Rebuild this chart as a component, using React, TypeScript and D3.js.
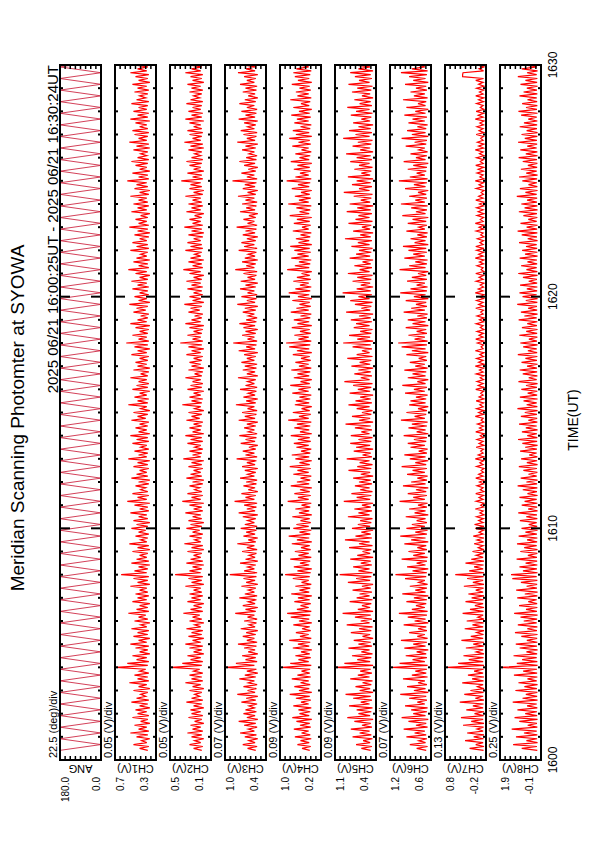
import React from 'react';
import * as d3 from 'd3';

// sampling of the photometer record (seconds after 16:00:00)
const START_SEC = 25;
const STEP_SEC = 5;
const ANG_STEP_SEC = 15;

const timeTicks = [0, 600, 1200, 1800];
const timeTickLabels = ['1600', '1610', '1620', '1630'];

const panelNames = ['ANG', 'CH1(V)', 'CH2(V)', 'CH3(V)', 'CH4(V)', 'CH5(V)', 'CH6(V)', 'CH7(V)', 'CH8(V)'];
const panelMax = [180.0, 0.7, 0.5, 1.0, 1.0, 1.1, 1.2, 0.8, 1.9];
const panelMin = [0.0, 0.3, 0.1, 0.4, 0.2, 0.4, 0.6, -0.2, -0.1];
const maxLabels = ['180.0', '0.7', '0.5', '1.0', '1.0', '1.1', '1.2', '0.8', '1.9'];
const minLabels = ['0.0', '0.3', '0.1', '0.4', '0.2', '0.4', '0.6', '-0.2', '-0.1'];
const divLabels = ['22.5 (deg)/div', '0.05 (V)/div', '0.05 (V)/div', '0.07 (V)/div', '0.09 (V)/div',
  '0.09 (V)/div', '0.07 (V)/div', '0.13 (V)/div', '0.25 (V)/div'];

// scan angle turning points (deg), one every 15 s
const angDeg = [
  180, 0, 180, 0, 180, 0, 180, 0, 180, 0, 180, 0, 180, 0, 180, 0, 180, 0, 180, 0,
  180, 0, 180, 0, 180, 0, 180, 0, 180, 0, 180, 0, 180, 0, 180, 0, 180, 0, 180, 0,
  180, 0, 180, 0, 180, 0, 180, 0, 180, 0, 180, 0, 180, 0, 180, 0, 180, 0, 180, 0,
  180, 0, 180, 0, 180, 0, 180, 0, 180, 0, 180, 0, 180, 0, 180, 0, 180, 0, 180, 0,
  180, 0, 180, 0, 180, 0, 180, 0, 180, 0, 180, 0, 180, 0, 180, 0, 180, 0, 180, 0,
  180, 0, 180, 0, 180, 0, 180, 0, 180, 0, 180, 0, 180, 0, 180, 0, 180, 0, 180, 0,
];

// channel outputs (V), one every 5 s
const ch1 = [
  .38, .46, .37, .52, .39, .44, .36, .49, .38, .55, .37, .47, .39, .51, .36, .45, .38, .53, .37, .48,
  .39, .50, .36, .46, .38, .54, .37, .49, .40, .45, .38, .52, .36, .47, .39, .56, .37, .48, .38, .51,
  .37, .46, .40, .69, .38, .58, .37, .49, .39, .53, .36, .46, .38, .50, .37, .55, .39, .47, .36, .52,
  .38, .48, .37, .54, .39, .45, .36, .51, .38, .47, .40, .57, .37, .49, .38, .46, .36, .53, .39, .48,
  .37, .50, .38, .46, .39, .55, .36, .48, .38, .52, .37, .64, .39, .51, .38, .47, .36, .54, .37, .49,
  .39, .46, .38, .53, .36, .48, .37, .56, .39, .45, .38, .50, .37, .47, .40, .54, .38, .49, .36, .52,
  .38, .47, .39, .55, .37, .46, .38, .51, .36, .58, .39, .48, .37, .53, .38, .45, .40, .50, .37, .47,
  .36, .54, .38, .49, .39, .46, .37, .52, .38, .48, .36, .57, .39, .47, .38, .51, .37, .45, .39, .53,
  .37, .49, .38, .55, .36, .47, .39, .50, .38, .46, .37, .54, .40, .48, .38, .52, .36, .45, .39, .57,
  .38, .48, .37, .51, .39, .46, .36, .53, .38, .49, .37, .47, .39, .55, .38, .45, .37, .52, .36, .48,
  .39, .50, .38, .46, .37, .54, .39, .48, .36, .51, .38, .59, .37, .47, .39, .53, .38, .46, .37, .50,
  .36, .55, .39, .48, .38, .45, .37, .52, .40, .49, .38, .56, .36, .47, .39, .51, .37, .46, .38, .53,
  .37, .48, .39, .54, .38, .46, .36, .50, .39, .57, .37, .47, .38, .52, .36, .49, .39, .45, .38, .55,
  .37, .49, .38, .53, .39, .46, .37, .51, .36, .48, .38, .56, .37, .47, .39, .50, .38, .45, .36, .54,
  .39, .48, .37, .52, .38, .47, .39, .55, .37, .46, .36, .51, .38, .49, .39, .58, .37, .47, .38, .53,
  .36, .46, .39, .50, .38, .54, .37, .48, .39, .45, .38, .52, .36, .49, .37, .56, .39, .47, .38, .51,
  .37, .53, .38, .46, .39, .50, .36, .55, .38, .48, .37, .52, .39, .47, .38, .54, .37, .49, .40, .46,
  .38, .51, .37, .48, .39, .53, .36, .47, .38, .50, .37, .55, .39, .48, .38, .52,
];

const ch2 = [
  .19, .27, .18, .31, .20, .26, .17, .29, .19, .33, .18, .28, .20, .30, .17, .26, .19, .32, .18, .29,
  .20, .30, .17, .27, .19, .34, .18, .29, .21, .26, .19, .31, .17, .28, .20, .35, .18, .29, .19, .31,
  .18, .27, .21, .49, .19, .38, .18, .30, .20, .33, .17, .27, .19, .31, .18, .35, .20, .28, .17, .32,
  .19, .29, .18, .34, .20, .26, .17, .31, .19, .28, .21, .37, .18, .30, .19, .27, .17, .33, .20, .29,
  .18, .31, .19, .27, .20, .35, .17, .29, .19, .32, .18, .45, .20, .31, .19, .28, .17, .34, .18, .30,
  .20, .27, .19, .33, .17, .29, .18, .36, .20, .26, .19, .31, .18, .28, .21, .34, .19, .30, .17, .32,
  .19, .28, .20, .35, .18, .27, .19, .31, .17, .38, .20, .29, .18, .33, .19, .26, .21, .31, .18, .28,
  .17, .34, .19, .30, .20, .27, .18, .32, .19, .29, .17, .37, .20, .28, .19, .31, .18, .26, .20, .33,
  .18, .30, .19, .35, .17, .28, .20, .31, .19, .27, .18, .34, .21, .29, .19, .32, .17, .26, .20, .38,
  .19, .29, .18, .31, .20, .27, .17, .33, .19, .30, .18, .28, .20, .35, .19, .26, .18, .32, .17, .29,
  .20, .31, .19, .27, .18, .34, .20, .29, .17, .32, .19, .40, .18, .28, .20, .33, .19, .27, .18, .31,
  .17, .35, .20, .29, .19, .26, .18, .32, .21, .30, .19, .36, .17, .28, .20, .31, .18, .27, .19, .33,
  .18, .29, .20, .34, .19, .27, .17, .31, .20, .37, .18, .28, .19, .32, .17, .30, .20, .26, .19, .35,
  .18, .30, .19, .33, .20, .27, .18, .32, .17, .29, .19, .36, .18, .28, .20, .31, .19, .26, .17, .34,
  .20, .29, .18, .32, .19, .28, .20, .35, .18, .27, .17, .31, .19, .30, .20, .39, .18, .28, .19, .33,
  .17, .27, .20, .31, .19, .34, .18, .29, .20, .26, .19, .32, .17, .30, .18, .36, .20, .28, .19, .31,
  .18, .33, .19, .27, .20, .31, .17, .35, .19, .29, .18, .32, .20, .28, .19, .34, .18, .30, .21, .27,
  .19, .31, .18, .29, .20, .33, .17, .28, .19, .30, .18, .35, .20, .29, .19, .32,
];

const ch3 = [
  .55, .67, .53, .74, .56, .65, .52, .71, .54, .78, .57, .66, .53, .72, .55, .80, .52, .68, .56, .73,
  .54, .70, .57, .65, .53, .76, .55, .69, .52, .82, .56, .67, .54, .73, .53, .66, .57, .79, .55, .71,
  .52, .68, .54, .99, .57, .84, .53, .70, .55, .75, .52, .66, .56, .72, .54, .81, .53, .68, .57, .74,
  .55, .69, .52, .77, .56, .65, .54, .72, .53, .67, .57, .85, .55, .70, .52, .74, .56, .66, .54, .79,
  .53, .71, .57, .66, .55, .76, .52, .69, .56, .73, .54, .93, .53, .72, .57, .67, .55, .78, .52, .70,
  .56, .65, .54, .75, .53, .68, .57, .82, .55, .66, .52, .73, .56, .69, .54, .77, .53, .71, .57, .67,
  .55, .74, .52, .80, .56, .68, .54, .72, .53, .86, .57, .70, .55, .76, .52, .66, .56, .73, .54, .69,
  .53, .78, .57, .67, .55, .71, .52, .75, .56, .68, .54, .83, .53, .70, .57, .74, .55, .65, .52, .77,
  .56, .70, .54, .79, .53, .66, .57, .72, .55, .68, .52, .80, .56, .71, .54, .75, .53, .67, .57, .84,
  .55, .69, .52, .73, .56, .66, .54, .78, .53, .70, .57, .67, .55, .81, .52, .68, .56, .74, .54, .71,
  .53, .76, .57, .68, .55, .72, .52, .80, .56, .69, .54, .88, .53, .67, .57, .75, .55, .70, .52, .73,
  .56, .79, .54, .69, .53, .66, .57, .74, .55, .71, .52, .82, .56, .68, .54, .76, .53, .67, .57, .78,
  .55, .70, .52, .77, .56, .67, .54, .73, .53, .85, .57, .69, .55, .75, .52, .71, .56, .66, .54, .80,
  .53, .72, .57, .76, .55, .68, .52, .74, .56, .70, .54, .83, .53, .67, .57, .73, .55, .65, .52, .78,
  .56, .69, .54, .75, .53, .70, .57, .81, .55, .67, .52, .74, .56, .71, .54, .89, .53, .68, .57, .76,
  .55, .66, .52, .72, .56, .79, .54, .69, .53, .65, .57, .75, .55, .70, .52, .82, .56, .68, .54, .73,
  .53, .77, .57, .67, .55, .72, .52, .80, .56, .70, .54, .76, .53, .68, .57, .79, .55, .71, .52, .66,
  .56, .74, .54, .70, .53, .78, .57, .68, .55, .72, .52, .81, .56, .69, .54, .75,
];

const ch4 = [
  .42, .57, .40, .66, .43, .60, .39, .71, .41, .58, .44, .73, .40, .61, .42, .68, .38, .76, .43, .62,
  .41, .64, .39, .74, .44, .59, .40, .69, .42, .81, .38, .63, .43, .72, .41, .60, .44, .77, .40, .66,
  .42, .58, .41, .96, .39, .80, .44, .64, .40, .70, .42, .59, .38, .75, .43, .65, .41, .82, .39, .61,
  .44, .69, .40, .57, .42, .74, .38, .63, .43, .79, .41, .86, .39, .67, .44, .60, .40, .72, .42, .65,
  .38, .78, .43, .62, .41, .70, .39, .58, .44, .75, .42, .90, .40, .66, .38, .73, .43, .61, .41, .80,
  .39, .64, .44, .71, .40, .59, .42, .77, .38, .67, .43, .83, .41, .62, .39, .74, .44, .68, .40, .60,
  .42, .76, .38, .63, .43, .70, .41, .58, .39, .85, .44, .65, .40, .72, .42, .61, .38, .79, .43, .67,
  .41, .60, .39, .74, .44, .66, .40, .81, .42, .62, .38, .70, .43, .77, .41, .59, .39, .68, .44, .73,
  .40, .65, .42, .79, .38, .61, .43, .72, .41, .67, .39, .84, .44, .63, .40, .75, .42, .58, .38, .71,
  .43, .69, .41, .62, .39, .76, .44, .64, .40, .80, .42, .60, .38, .73, .43, .66, .41, .78, .39, .63,
  .44, .70, .40, .59, .42, .75, .38, .67, .43, .82, .41, .88, .39, .64, .44, .72, .40, .61, .42, .77,
  .38, .66, .43, .73, .41, .60, .39, .79, .44, .68, .40, .62, .42, .76, .38, .65, .43, .83, .41, .70,
  .39, .61, .44, .74, .40, .67, .42, .58, .38, .86, .43, .71, .41, .63, .39, .78, .44, .66, .40, .72,
  .42, .80, .38, .64, .43, .69, .41, .60, .39, .75, .44, .57, .40, .73, .42, .67, .38, .81, .43, .62,
  .41, .68, .39, .84, .44, .63, .40, .71, .42, .59, .38, .77, .43, .65, .41, .87, .39, .70, .44, .61,
  .40, .73, .42, .66, .38, .79, .43, .62, .41, .70, .39, .58, .44, .76, .40, .64, .42, .82, .38, .69,
  .43, .75, .41, .60, .39, .72, .44, .67, .40, .78, .42, .63, .38, .74, .43, .59, .41, .80, .39, .66,
  .44, .69, .40, .62, .42, .77, .38, .65, .43, .71, .41, .74, .39, .68, .44, .63,
];

const ch5 = [
  .49, .65, .47, .74, .50, .62, .46, .80, .48, .68, .51, .83, .47, .64, .49, .77, .45, .89, .50, .70,
  .48, .73, .46, .86, .51, .66, .47, .79, .49, .92, .45, .68, .50, .75, .48, .63, .46, .84, .51, .71,
  .47, .67, .49, 1.09, .45, .94, .50, .72, .48, .81, .46, .65, .51, .87, .47, .70, .49, .78, .45, .63,
  .50, .83, .48, .69, .46, .90, .51, .66, .47, .76, .49, .97, .45, .71, .50, .64, .48, .85, .46, .73,
  .51, .68, .47, .80, .49, .64, .45, .88, .50, .74, .48, 1.02, .46, .70, .51, .79, .47, .66, .49, .84,
  .45, .72, .50, .63, .48, .86, .46, .69, .51, .93, .47, .75, .49, .65, .45, .81, .50, .71, .48, .67,
  .46, .88, .51, .70, .47, .77, .49, .64, .45, .95, .50, .73, .48, .82, .46, .67, .51, .76, .47, .69,
  .49, .79, .45, .66, .50, .87, .48, .72, .46, .68, .51, .90, .47, .63, .49, .78, .45, .74, .50, .84,
  .48, .70, .46, .83, .51, .65, .47, .76, .49, .92, .45, .69, .50, .81, .48, .64, .46, .73, .51, .87,
  .47, .75, .49, .67, .45, .85, .50, .71, .48, .79, .46, .94, .51, .66, .47, .77, .49, .70, .45, .82,
  .50, .68, .48, .89, .46, .73, .51, .64, .47, .80, .49, .96, .45, .72, .50, .86, .48, .67, .46, .78,
  .51, .74, .47, .83, .49, .69, .45, .91, .50, .65, .48, .76, .46, .84, .51, .70, .47, .97, .49, .73,
  .45, .66, .50, .80, .48, .72, .46, .88, .51, .68, .47, .77, .49, .63, .45, .85, .50, .74, .48, .69,
  .46, .82, .51, .71, .47, .93, .49, .67, .45, .79, .50, .64, .48, .87, .46, .75, .51, .70, .47, .90,
  .49, .72, .45, .85, .50, .66, .48, .78, .46, .95, .51, .69, .47, .81, .49, .73, .45, .88, .50, .65,
  .48, .77, .46, .69, .51, .84, .47, .73, .49, .91, .45, .67, .50, .80, .48, .71, .46, .96, .51, .75,
  .47, .86, .49, .70, .45, .79, .50, .65, .48, .83, .46, .74, .51, .89, .47, .68, .49, .77, .45, .64,
  .50, .81, .48, .72, .46, .87, .51, .69, .47, .76, .49, .84, .45, .70, .50, .79,
];

const ch6 = [
  .67, .81, .65, .91, .68, .78, .66, .96, .67, .84, .69, 1.00, .65, .82, .67, .93, .64, 1.03, .68, .86,
  .66, .89, .65, .98, .69, .80, .66, .92, .67, 1.05, .64, .85, .68, .95, .66, .79, .69, 1.01, .65, .88,
  .67, .83, .66, 1.16, .65, 1.06, .69, .87, .66, .97, .67, .81, .64, .99, .68, .86, .66, 1.04, .65, .80,
  .69, .92, .66, .79, .67, 1.00, .64, .84, .68, .94, .66, 1.07, .65, .88, .69, .82, .67, .96, .66, .85,
  .64, 1.02, .68, .83, .66, .91, .65, .78, .69, .98, .67, 1.12, .66, .87, .64, .95, .68, .81, .66, 1.03,
  .65, .86, .69, .93, .66, .80, .67, .99, .64, .89, .68, 1.05, .66, .83, .65, .96, .69, .88, .66, .81,
  .68, .97, .64, .84, .68, .92, .66, .79, .65, 1.06, .69, .86, .66, .94, .67, .82, .64, 1.01, .68, .89,
  .66, .80, .65, .95, .69, .87, .66, 1.03, .67, .83, .64, .91, .68, .99, .66, .78, .65, .90, .69, .94,
  .67, .85, .66, 1.00, .64, .81, .68, .93, .66, .88, .65, 1.04, .69, .84, .67, .96, .66, .79, .64, .92,
  .68, .90, .67, .82, .65, .98, .69, .85, .66, 1.02, .68, .80, .64, .94, .68, .87, .67, .99, .65, .83,
  .69, .91, .66, .78, .67, .96, .64, .88, .68, 1.03, .66, 1.08, .65, .84, .69, .93, .66, .81, .67, .97,
  .64, .87, .68, .94, .66, .80, .65, 1.00, .69, .89, .66, .82, .67, .97, .64, .85, .68, 1.05, .66, .90,
  .65, .81, .69, .95, .66, .88, .67, .79, .64, 1.06, .68, .92, .66, .83, .65, .99, .69, .86, .66, .93,
  .67, 1.01, .64, .84, .68, .90, .66, .80, .65, .96, .69, .78, .66, .94, .67, .87, .64, 1.02, .68, .82,
  .66, .89, .65, 1.04, .69, .83, .66, .92, .67, .79, .64, .98, .68, .85, .66, 1.07, .65, .91, .69, .81,
  .67, .94, .66, .86, .64, 1.00, .68, .82, .66, .90, .65, .78, .69, .97, .67, .84, .66, 1.03, .64, .88,
  .68, .95, .67, .80, .65, .93, .69, .87, .66, .99, .68, .83, .64, .96, .68, .79, .67, 1.01, .65, .85,
  .69, .90, .66, .82, .67, .98, .64, .86, .68, .92, .66, 1.04, .65, .88, .69, .81,
];

const ch7 = [
  -.14, .20, -.15, .05, -.13, .31, -.14, .10, -.15, .26, -.13, .02, -.14, .36, -.15, .16, -.13, .41, -.14, .08,
  -.15, .28, -.13, .12, -.14, .44, -.15, .06, -.13, .33, -.14, .18, -.15, .01, -.13, .38, -.14, .14, -.15, .24,
  -.13, .09, -.14, .75, -.15, .48, -.13, .22, -.14, .35, -.15, .04, -.13, .29, -.14, .11, -.15, .40, -.13, .17,
  -.14, .03, -.15, .32, -.13, .13, -.14, .27, -.15, .00, -.13, .37, -.14, .19, -.15, .07, -.13, .30, -.14, .15,
  -.15, .23, -.13, .05, -.14, .34, -.15, .12, -.13, .26, -.14, .55, -.15, .21, -.13, .09, -.14, .30, -.15, .16,
  -.13, .04, -.14, .13, -.15, -.01, -.13, .09, -.14, .02, -.15, .11, -.13, -.03, -.14, .06, -.15, .08, -.13, -.02,
  -.14, .03, -.15, -.05, -.13, .06, -.14, -.07, -.15, .04, -.13, -.03, -.14, .05, -.15, -.06, -.13, .02, -.14, -.04,
  -.15, .05, -.13, -.02, -.14, -.08, -.15, .03, -.13, -.05, -.14, .06, -.15, -.01, -.13, -.07, -.14, .04, -.15, -.03,
  -.13, .02, -.14, -.06, -.15, .05, -.13, -.04, -.14, .01, -.15, -.08, -.13, .06, -.14, -.02, -.15, .03, -.13, -.05,
  -.14, .04, -.15, -.03, -.13, -.07, -.14, .05, -.15, -.01, -.13, .02, -.14, -.06, -.15, .04, -.13, -.04, -.14, .06,
  -.15, -.02, -.13, .03, -.14, -.05, -.15, .06, -.13, -.08, -.14, .01, -.15, .05, -.13, -.03, -.14, .02, -.15, -.06,
  -.13, .04, -.14, -.04, -.15, .02, -.13, -.07, -.14, .05, -.15, -.02, -.13, .03, -.14, -.05, -.15, .06, -.13, -.01,
  -.14, -.06, -.15, .04, -.13, -.03, -.14, .05, -.15, -.08, -.13, .02, -.14, -.04, -.15, .06, -.13, -.02, -.14, .03,
  -.15, .05, -.13, -.05, -.14, .01, -.15, -.07, -.13, .04, -.14, -.03, -.15, .06, -.13, -.06, -.14, .02, -.15, -.01,
  -.13, .03, -.14, -.04, -.15, .05, -.13, -.02, -.14, -.08, -.15, .04, -.13, -.03, -.14, .06, -.15, -.05, -.13, .02,
  -.14, -.01, -.15, .05, -.13, -.06, -.14, .03, -.15, -.04, -.13, .06, -.14, -.02, -.15, .01, -.13, -.07, -.14, .04,
  -.15, -.03, -.13, .02, -.14, -.05, -.15, .06, -.13, -.01, -.14, .04, -.15, -.06, -.13, .03, -.14, -.02, -.15, .05,
  -.13, -.04, -.14, .03, -.15, -.02, -.13, .05, -.14, .37, .37, .36, -.14, -.03, -.15, .02,
];

const ch8 = [
  .08, .84, .10, 1.26, .07, .61, .09, 1.12, .08, .73, .11, 1.33, .08, .55, .10, .96, .07, 1.19, .09, .67,
  .10, 1.05, .08, .58, .11, 1.28, .07, .80, .09, .64, .08, 1.15, .10, .71, .07, 1.00, .11, .56, .08, 1.22,
  .09, .77, .10, 1.90, .07, 1.08, .08, .82, .11, 1.24, .09, .61, .07, .94, .10, 1.13, .08, .59, .09, .86,
  .07, 1.17, .10, .57, .08, 1.03, .11, .74, .09, .90, .07, 1.21, .10, .63, .08, .97, .09, .52, .11, 1.06,
  .08, .69, .07, 1.11, .10, .60, .09, .88, .08, 1.30, .11, 1.36, .07, .78, .10, .95, .08, .65, .09, 1.09,
  .10, .54, .08, .91, .07, .72, .11, 1.07, .09, .58, .08, .99, .10, .66, .07, .85, .09, .50, .11, .93,
  .08, .62, .10, 1.01, .07, .53, .09, .84, .08, .70, .11, .95, .07, .56, .10, .79, .08, 1.04, .09, .61,
  .07, .89, .11, .51, .08, .76, .10, .98, .07, .59, .09, .87, .08, .48, .11, .92, .10, .67, .07, .81,
  .09, 1.02, .08, .57, .10, .83, .07, .64, .11, .97, .08, .52, .09, .88, .10, .69, .07, 1.05, .08, .60,
  .11, .75, .07, .93, .09, .55, .08, .86, .10, .63, .07, 1.00, .11, .50, .08, .79, .09, .94, .10, .58,
  .07, .85, .10, .66, .08, 1.03, .09, .54, .11, .77, .07, .91, .10, .49, .08, .96, .09, .62, .07, .83,
  .10, .57, .08, .99, .11, .71, .07, .88, .09, .53, .10, 1.06, .08, .64, .07, .80, .11, .95, .09, .59,
  .08, .92, .09, .50, .10, .78, .07, 1.01, .08, .61, .11, .87, .09, .56, .10, .94, .07, .68, .08, .82,
  .09, .63, .11, .97, .07, .55, .10, .84, .08, 1.04, .09, .60, .07, .90, .11, .52, .08, .76, .10, .98,
  .07, .70, .08, .86, .10, .58, .09, 1.08, .11, .66, .07, .93, .08, .51, .10, .81, .09, .97, .07, .62,
  .11, .88, .09, .54, .08, .79, .10, .99, .07, .64, .08, .91, .11, .57, .09, 1.02, .10, .69, .08, .85,
  .07, .60, .10, .94, .09, .73, .08, .52, .11, .87, .07, 1.00, .10, .63, .08, .82, .09, .56, .11, .95,
  .08, .75, .10, .59, .07, .90, .09, .66, .08, 1.03, .11, .58, .07, .84, .10, .71,
];

const series = [angDeg, ch1, ch2, ch3, ch4, ch5, ch6, ch7, ch8];

const W = 595;
const H = 842;
const PANEL_X0 = 60;
const PANEL_STEP = 55;
const PANEL_W = 41;
const T_BOTTOM = 760;
const T_TOP = 65;
const FONT = 'Liberation Sans, Arial, Helvetica, sans-serif';

const App = () => {
  const yT = d3.scaleLinear().domain([0, 1800]).range([T_BOTTOM, T_TOP]);
  const minorTicks = d3.range(60, 1800, 60).filter(t => t % 600 !== 0);
  const majorTicks = [600, 1200];

  return (
    <div style={{ position: 'absolute', left: 0, top: 0 }}>
      <svg width={W} height={H} style={{ display: 'block', background: '#fff' }} fontFamily={FONT}>
        <defs>
          {series.map((_, i) => (
            <clipPath id={`clip${i}`} key={i}>
              <rect x={PANEL_X0 + PANEL_STEP * i} y={T_TOP} width={PANEL_W} height={T_BOTTOM - T_TOP} />
            </clipPath>
          ))}
        </defs>

        <text transform="translate(24,418) rotate(-90)" textAnchor="middle" fontSize={19}>
          Meridian Scanning Photomter at SYOWA
        </text>
        <text transform={`translate(58,${T_TOP}) rotate(-90)`} textAnchor="end" fontSize={15}>
          2025 06/21 16:00:25UT - 2025 06/21 16:30:24UT
        </text>

        {series.map((vals, i) => {
          const x0 = PANEL_X0 + PANEL_STEP * i;
          const x1 = x0 + PANEL_W;
          const xv = d3.scaleLinear().domain([panelMax[i], panelMin[i]]).range([x0, x1]);
          const step = i === 0 ? ANG_STEP_SEC : STEP_SEC;
          const line = d3.line<number>()
            .x(v => xv(v))
            .y((_, k) => yT(START_SEC + k * step));
          const valTicks = d3.range(1, 8).map(k => x0 + (k * PANEL_W) / 8);
          return (
            <g key={i}>
              <path d={line(vals) || ''} fill="none" clipPath={`url(#clip${i})`}
                stroke={i === 0 ? '#c8102e' : '#ff0000'} strokeWidth={i === 0 ? 0.8 : 1.2} />
              <rect x={x0} y={T_TOP} width={PANEL_W} height={T_BOTTOM - T_TOP}
                fill="none" stroke="#000" strokeWidth={2} />
              {minorTicks.map(t => (
                <g key={t}>
                  <line x1={x0} x2={x0 + 3} y1={yT(t)} y2={yT(t)} stroke="#000" strokeWidth={2} />
                  <line x1={x1 - 3} x2={x1} y1={yT(t)} y2={yT(t)} stroke="#000" strokeWidth={2} />
                </g>
              ))}
              {majorTicks.map(t => (
                <g key={t}>
                  <line x1={x0} x2={x0 + 10} y1={yT(t)} y2={yT(t)} stroke="#000" strokeWidth={2} />
                  <line x1={x1 - 10} x2={x1} y1={yT(t)} y2={yT(t)} stroke="#000" strokeWidth={2} />
                </g>
              ))}
              {valTicks.map(x => (
                <g key={x}>
                  <line x1={x} x2={x} y1={T_BOTTOM} y2={T_BOTTOM - 4} stroke="#000" strokeWidth={1.5} />
                  <line x1={x} x2={x} y1={T_TOP} y2={T_TOP + 4} stroke="#000" strokeWidth={1.5} />
                </g>
              ))}
              <text transform={`translate(${x0 - 3},758) rotate(-90)`} fontSize={11}>{divLabels[i]}</text>
              <text transform={`translate(${(x0 + x1) / 2},765) rotate(180)`} textAnchor="middle" fontSize={11}>
                {panelNames[i]}
              </text>
              <text transform={`translate(${x0 + 9},777) rotate(-90)`} textAnchor="end" fontSize={10}>
                {maxLabels[i]}
              </text>
              <text transform={`translate(${i === 0 ? x1 - 1 : x1 - 8},777) rotate(-90)`} textAnchor="end" fontSize={10}>
                {minLabels[i]}
              </text>
            </g>
          );
        })}

        {timeTicks.map((t, k) => (
          <text key={t} transform={`translate(557,${yT(t)}) rotate(-90)`} textAnchor="middle" fontSize={12}>
            {timeTickLabels[k]}
          </text>
        ))}
        <text transform="translate(578,420) rotate(-90)" textAnchor="middle" fontSize={14}>TIME(UT)</text>
      </svg>
    </div>
  );
};

export default App;
